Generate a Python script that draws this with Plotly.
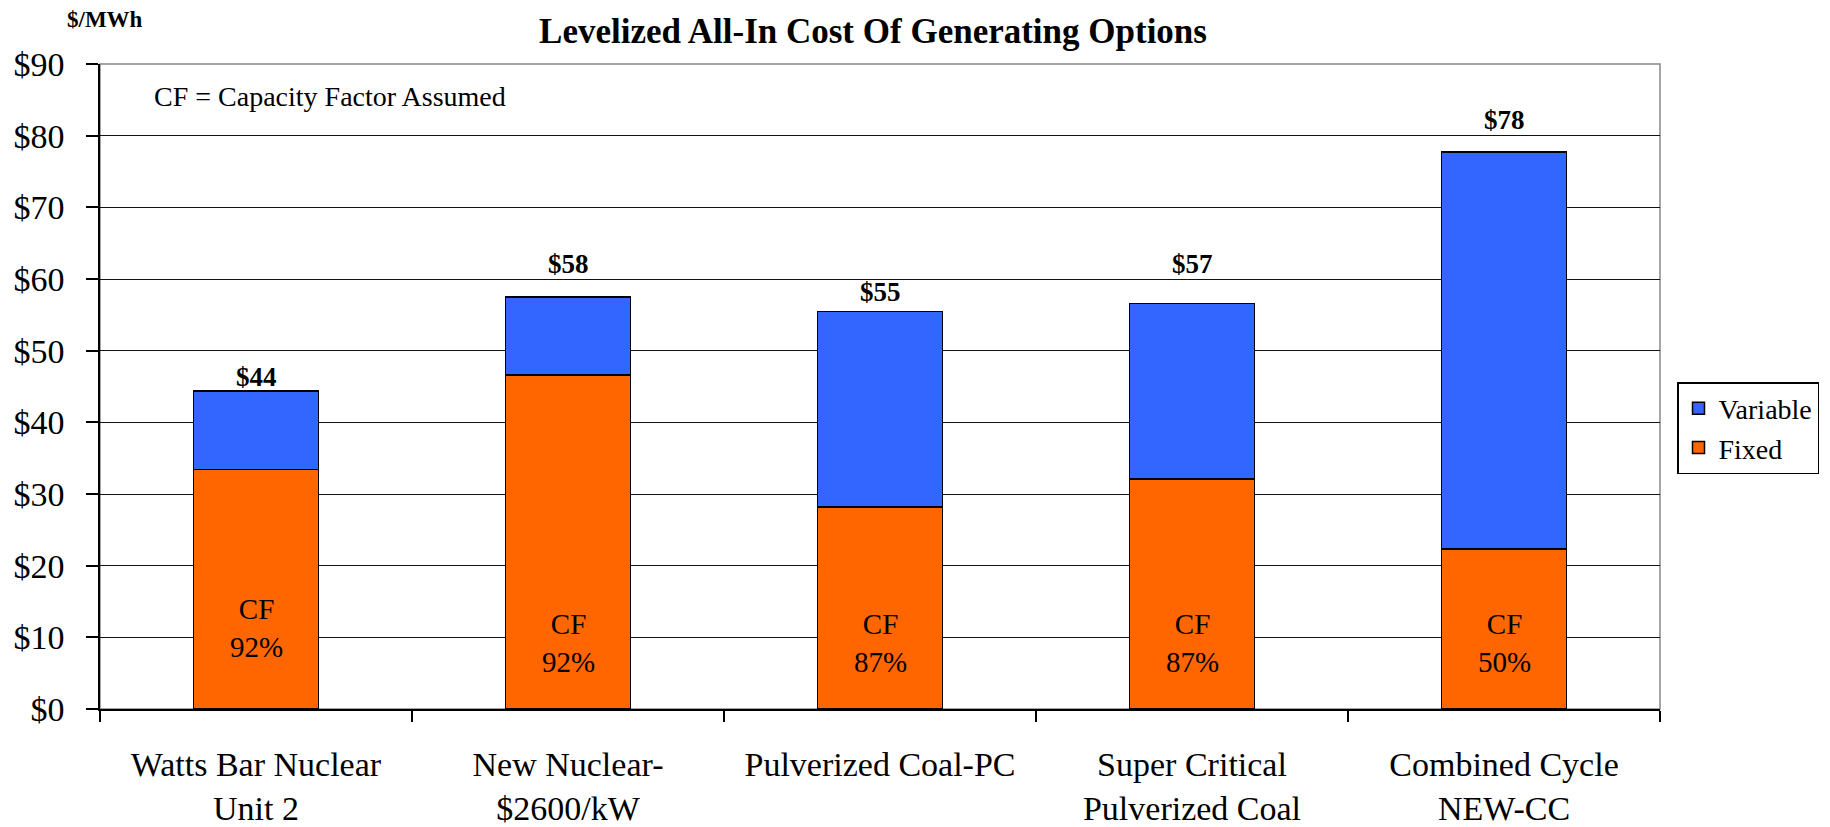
import plotly.graph_objects as go

categories = ["Watts Bar Nuclear<br>Unit 2", "New Nuclear-<br>$2600/kW", "Pulverized Coal-PC",
              "Super Critical<br>Pulverized Coal", "Combined Cycle<br>NEW-CC"]
fixed = [33.4, 46.6, 28.2, 32.1, 22.3]
variable = [11.0, 10.9, 27.3, 24.5, 55.4]
total_labels = ["$44", "$58", "$55", "$57", "$78"]
cf_labels = ["92%", "92%", "87%", "87%", "50%"]
y_ticks = [0, 10, 20, 30, 40, 50, 60, 70, 80, 90]
y_tick_text = ["$" + str(v) for v in y_ticks]

# style / placement helpers (not data)
label_yshift = [-3, 16, 2, 22, 15]
cf_pos = [11.3, 9.2, 9.2, 9.2, 9.2]

FONT = '"Liberation Serif", "Times New Roman", serif'
BLUE = "#3366FF"
ORANGE = "#FF6600"

# The page body has an 8px margin; figure coordinates are offset by 8px from the window.
W, H = 1822, 827
PL, PR, PT, PB = 92, 1652, 56, 701  # plot area in figure pixels
PW, PH = PR - PL, PB - PT

fig = go.Figure()
fig.add_trace(go.Bar(x=categories, y=fixed, name="Fixed", marker=dict(color=ORANGE, line=dict(color="black", width=1.5)),
                     width=0.4, hoverinfo="skip"))
fig.add_trace(go.Bar(x=categories, y=variable, name="Variable", marker=dict(color=BLUE, line=dict(color="black", width=1.5)),
                     width=0.4, hoverinfo="skip"))

for i, cat in enumerate(categories):
    tot = fixed[i] + variable[i]
    fig.add_annotation(x=cat, y=tot, text="<b>" + total_labels[i] + "</b>", showarrow=False,
                       yanchor="bottom", yshift=label_yshift[i],
                       font=dict(family=FONT, size=27, color="black"))
    fig.add_annotation(x=cat, y=cf_pos[i], text="CF<br>" + cf_labels[i], showarrow=False,
                       yanchor="middle", font=dict(family=FONT, size=29, color="black"))

fig.add_annotation(xref="paper", yref="paper", x=(144 - PL) / PW, y=1 - (88 - PT) / PH,
                   text="CF = Capacity Factor Assumed", showarrow=False, xanchor="left", yanchor="middle",
                   font=dict(family=FONT, size=28, color="black"))
fig.add_annotation(xref="paper", yref="paper", x=(97 - PL) / PW, y=1 + (PT - 11) / PH,
                   text="<b>$/MWh</b>", showarrow=False, xanchor="center", yanchor="middle",
                   font=dict(family=FONT, size=23, color="black"))

fig.add_shape(type="rect", xref="paper", yref="paper", x0=0, x1=1, y0=0, y1=1,
              line=dict(color="#888888", width=1.5), layer="below")

fig.update_layout(
    width=W, height=H,
    margin=dict(l=PL, r=W - PR, t=PT, b=H - PB),
    barmode="stack",
    plot_bgcolor="white", paper_bgcolor="white",
    title=dict(text="<b>Levelized All-In Cost Of Generating Options</b>", x=865 / W, xanchor="center",
               y=1 - 23 / H, yanchor="middle", font=dict(family=FONT, size=35, color="black")),
    legend=dict(x=1669 / W, y=1 - 374 / H, xref="container", yref="container", xanchor="left", yanchor="top",
                traceorder="reversed", bordercolor="black", borderwidth=1.5,
                font=dict(family=FONT, size=28, color="black"), bgcolor="white",
                itemwidth=30),
    showlegend=True,
    xaxis=dict(showline=True, linecolor="black", linewidth=1.5, ticks="outside", tickson="boundaries",
               ticklen=11, tickcolor="black", tickwidth=1.5, showgrid=False, automargin=False,
               tickfont=dict(family=FONT, size=34, color="black"), ticklabelstandoff=24),
    yaxis=dict(range=[0, 90], tickvals=y_ticks, ticktext=y_tick_text, showline=True, linecolor="black",
               linewidth=1.5, ticks="outside", ticklen=12, tickcolor="black", tickwidth=1.5, automargin=False,
               showgrid=True, gridcolor="#111111", gridwidth=1, zeroline=False,
               tickfont=dict(family=FONT, size=34, color="black"), ticklabelstandoff=15),
)

fig.write_html("out.html")
